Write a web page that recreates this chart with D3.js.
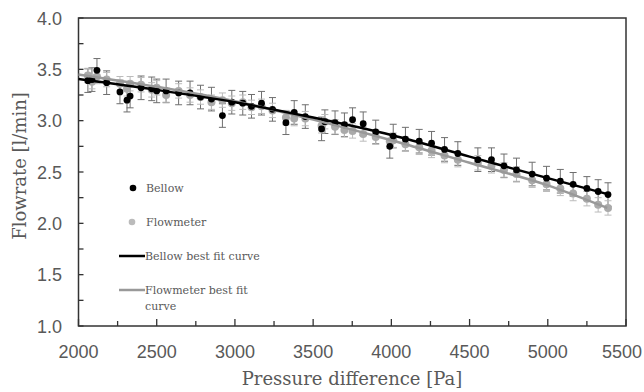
<!DOCTYPE html>
<html lang="en">
<head>
<meta charset="utf-8">
<title>Flowrate vs pressure difference</title>
<script src="https://d3js.org/d3.v7.min.js"></script>
<style>
  body { margin: 0; background: #fff; }
  .tick-label { font-family: "Liberation Sans", Arial, sans-serif; font-size: 18px; fill: #595959; }
  .axis-title { font-family: "DejaVu Serif", serif; font-size: 18px; fill: #595959; }
  .legend-text { font-family: "DejaVu Serif", serif; font-size: 11px; fill: #595959; }
</style>
</head>
<body>
<script>
// measurement points (pressure difference, Pa)
const pressure = [2060, 2086, 2118, 2180, 2265, 2310, 2330, 2400, 2468, 2500, 2560, 2640, 2713, 2780, 2850, 2920, 2980,
  3050, 3106, 3170, 3240, 3326, 3379, 3450, 3554, 3575, 3640, 3700, 3752, 3820, 3900, 3990, 4012, 4090, 4178, 4257,
  4340, 4425, 4553, 4640, 4720, 4800, 4900, 4992, 5080, 5162, 5250, 5322, 5385];
const bellow = [3.39, 3.40, 3.49, 3.37, 3.28, 3.20, 3.24, 3.32, 3.31, 3.29, 3.29, 3.27, 3.27, 3.23, 3.21, 3.05, 3.18,
  3.17, 3.14, 3.17, 3.11, 2.98, 3.08, 3.04, 2.92, 2.99, 2.98, 2.96, 3.01, 2.97, 2.89, 2.75, 2.85, 2.82, 2.80, 2.78,
  2.72, 2.68, 2.62, 2.62, 2.56, 2.52, 2.48, 2.44, 2.41, 2.38, 2.34, 2.31, 2.28];
const flowmeter = [3.44, 3.38, 3.43, 3.40, 3.36, 3.31, 3.36, 3.35, 3.30, 3.32, 3.25, 3.29, 3.25, 3.23, 3.18, 3.20, 3.17,
  3.18, 3.13, 3.14, 3.10, 3.03, 3.02, 3.02, 2.95, 2.99, 2.94, 2.91, 2.90, 2.87, 2.84, 2.80, 2.81, 2.77, 2.74, 2.71,
  2.66, 2.62, 2.59, 2.56, 2.52, 2.48, 2.42, 2.38, 2.34, 2.29, 2.24, 2.18, 2.15];
const bellowErr = 0.115;
const flowErr = 0.07;

// best fit curves
const fitX = [2000, 2500, 3000, 3500, 4000, 4500, 5000, 5380];
const bellowFit = [3.405, 3.30, 3.18, 3.03, 2.86, 2.65, 2.44, 2.285];
const flowFit = [3.45, 3.33, 3.19, 3.01, 2.81, 2.59, 2.37, 2.15];

const xTicks = [2000, 2500, 3000, 3500, 4000, 4500, 5000, 5500];
const yTicks = [1.0, 1.5, 2.0, 2.5, 3.0, 3.5, 4.0];

const width = 644, height = 392;
const m = { left: 78.5, right: 626, top: 18, bottom: 326 };

const svg = d3.select("body").append("svg")
  .attr("width", width)
  .attr("height", height);

const x = d3.scaleLinear().domain([2000, 5500]).range([m.left, m.right]);
const y = d3.scaleLinear().domain([1, 4]).range([m.bottom, m.top]);

// frame
svg.append("rect")
  .attr("x", m.left).attr("y", m.top)
  .attr("width", m.right - m.left).attr("height", m.bottom - m.top)
  .attr("fill", "none").attr("stroke", "#333").attr("stroke-width", 1.5);

// inside ticks
svg.selectAll(".xt")
  .data(d3.range(2000, 5501, 250))
  .enter().append("line")
  .attr("x1", d => x(d)).attr("x2", d => x(d))
  .attr("y1", m.bottom).attr("y2", d => m.bottom - (d % 500 === 0 ? 7 : 5))
  .attr("stroke", "#333").attr("stroke-width", 1.3);

svg.selectAll(".yt")
  .data(d3.range(1, 4.01, 0.25))
  .enter().append("line")
  .attr("x1", m.left).attr("x2", m.left + 5)
  .attr("y1", d => y(d)).attr("y2", d => y(d))
  .attr("stroke", "#333").attr("stroke-width", 1.3);

// tick labels (last one kept inside the page, as in the original)
svg.selectAll(".xl")
  .data(xTicks)
  .enter().append("text")
  .attr("class", "tick-label")
  .attr("x", (d, i) => i === xTicks.length - 1 ? width - 2 : x(d))
  .attr("y", 358)
  .attr("text-anchor", (d, i) => i === xTicks.length - 1 ? "end" : "middle")
  .text(d => d);

svg.selectAll(".yl")
  .data(yTicks)
  .enter().append("text")
  .attr("class", "tick-label")
  .attr("x", 62).attr("y", d => y(d) + 6.5)
  .attr("text-anchor", "end")
  .text(d => d.toFixed(1));

// axis titles
svg.append("text")
  .attr("class", "axis-title")
  .attr("x", 352).attr("y", 385)
  .attr("text-anchor", "middle")
  .text("Pressure difference [Pa]");

svg.append("text")
  .attr("class", "axis-title")
  .attr("transform", "translate(26,166) rotate(-90)")
  .attr("text-anchor", "middle")
  .text("Flowrate [l/min]");

// error bars
function errorBars(vals, err, color) {
  const g = svg.append("g").attr("stroke", color).attr("stroke-width", 1);
  const cap = 3.5;
  pressure.forEach((p, i) => {
    const cx = x(p);
    g.append("line").attr("x1", cx).attr("x2", cx)
      .attr("y1", y(vals[i] - err)).attr("y2", y(vals[i] + err));
    [vals[i] - err, vals[i] + err].forEach(v => {
      g.append("line").attr("x1", cx - cap).attr("x2", cx + cap)
        .attr("y1", y(v)).attr("y2", y(v));
    });
  });
}
errorBars(bellow, bellowErr, "#6e6e6e");
errorBars(flowmeter, flowErr, "#bbb");

// points
svg.append("g").selectAll("circle")
  .data(pressure)
  .enter().append("circle")
  .attr("cx", d => x(d)).attr("cy", (d, i) => y(flowmeter[i]))
  .attr("r", 4).attr("fill", "#aaa");

svg.append("g").selectAll("circle")
  .data(pressure)
  .enter().append("circle")
  .attr("cx", d => x(d)).attr("cy", (d, i) => y(bellow[i]))
  .attr("r", 3.4).attr("fill", "#000");

// fit curves
const line = d3.line().curve(d3.curveMonotoneX);
svg.append("path")
  .attr("d", line(fitX.map((d, i) => [x(d), y(flowFit[i])])))
  .attr("fill", "none").attr("stroke", "#999").attr("stroke-width", 2.5);
svg.append("path")
  .attr("d", line(fitX.map((d, i) => [x(d), y(bellowFit[i])])))
  .attr("fill", "none").attr("stroke", "#000").attr("stroke-width", 2.5);

// legend
const legend = svg.append("g");
legend.append("circle").attr("cx", 133).attr("cy", 188).attr("r", 3.3).attr("fill", "#000");
legend.append("text").attr("class", "legend-text").attr("x", 146).attr("y", 192).text("Bellow");
legend.append("circle").attr("cx", 132).attr("cy", 222).attr("r", 3.3).attr("fill", "#bbb");
legend.append("text").attr("class", "legend-text").attr("x", 146).attr("y", 226).text("Flowmeter");
legend.append("line").attr("x1", 119).attr("x2", 145).attr("y1", 256).attr("y2", 256)
  .attr("stroke", "#000").attr("stroke-width", 2.5);
legend.append("text").attr("class", "legend-text").attr("x", 145).attr("y", 260).text("Bellow best fit curve");
legend.append("line").attr("x1", 119).attr("x2", 145).attr("y1", 290).attr("y2", 290)
  .attr("stroke", "#999").attr("stroke-width", 2.5);
legend.append("text").attr("class", "legend-text").attr("x", 145).attr("y", 294).text("Flowmeter best fit");
legend.append("text").attr("class", "legend-text").attr("x", 145).attr("y", 310).text("curve");
</script>
</body>
</html>
